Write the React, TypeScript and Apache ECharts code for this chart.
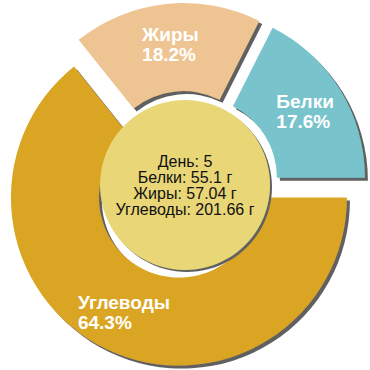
import React, { useEffect, useRef } from "react";
import * as echarts from "echarts";

const categories = ["Углеводы", "Жиры", "Белки"];
const grams = [201.66, 57.04, 55.1];
const colors = ["#DAA520", "#EEC592", "#78C3CC"];
const dayLabel = "День: 5";
const centerLines = ["Белки: 55.1 г", "Жиры: 57.04 г", "Углеводы: 201.66 г"];

export default function App() {
  const ref = useRef<HTMLDivElement>(null);
  useEffect(() => {
    document.body.style.margin = "0";
    const chart = echarts.init(ref.current!, undefined, { renderer: "svg" });
    const fontFamily = "'Liberation Sans', Arial, sans-serif";
    const total = grams.reduce((a, b) => a + b, 0);
    chart.setOption({
      animation: false,
      series: [
        {
          type: "pie",
          center: ["50%", "50%"],
          radius: [80, 168],
          startAngle: 0,
          clockwise: true,
          selectedMode: "multiple",
          selectedOffset: 14,
          emphasis: { disabled: true },
          itemStyle: {
            shadowColor: "#606060",
            shadowOffsetX: 3,
            shadowOffsetY: 3,
            shadowBlur: 0,
          },
          label: {
            show: true,
            position: "inside",
            formatter: (p: any) =>
              `{a|${p.name}}\n{a|${((p.value / total) * 100).toFixed(1)}%}`,
            rich: {
              a: {
                align: "left",
                color: "#ffffff",
                fontSize: 19,
                fontWeight: "bold",
                fontFamily,
                lineHeight: 20,
              },
            },
          },
          labelLine: { show: false },
          data: categories.map((name, i) => ({
            name,
            value: grams[i],
            selected: true,
            itemStyle: { color: colors[i] },
          })),
        },
        {
          type: "pie",
          center: ["50%", "50%"],
          radius: [0, 85],
          silent: true,
          emphasis: { disabled: true },
          itemStyle: {
            color: "#E8D677",
            shadowColor: "#606060",
            shadowOffsetX: 2,
            shadowOffsetY: 2,
            shadowBlur: 0,
          },
          label: {
            show: true,
            position: "center",
            formatter: [dayLabel, ...centerLines].join("\n"),
            color: "#111111",
            fontSize: 16,
            lineHeight: 16,
            fontFamily,
          },
          labelLine: { show: false },
          data: [{ name: "center", value: 1 }],
        },
      ],
    });
    return () => chart.dispose();
  }, []);
  return (
    <div
      ref={ref}
      style={{ width: 370, height: 370, position: "absolute", left: 0, top: 0 }}
    />
  );
}
